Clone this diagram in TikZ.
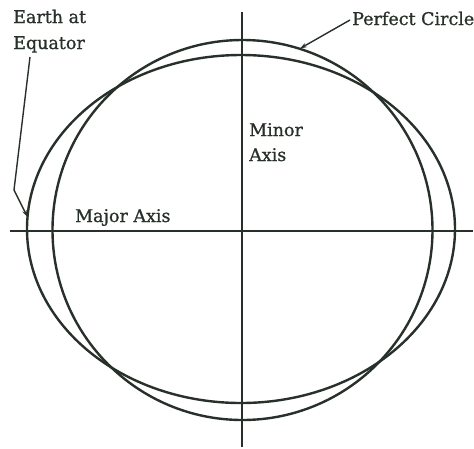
\documentclass[tikz,border=0pt]{standalone}
\usepackage{fontspec}
\setmainfont{DejaVu Serif}
\newfontfamily\lblfont{DejaVu Serif}[FakeBold=0.9]
\usetikzlibrary{arrows.meta}
\definecolor{ink}{RGB}{40,48,42}
\tikzset{
  lbl/.style={anchor=base west,inner sep=0pt,font=\lblfont\fontsize{17.5}{20}\selectfont,text=ink},
  curve/.style={draw=ink,line width=2.4pt},
  axis/.style={draw=ink,line width=2pt},
  leader/.style={draw=ink,line width=1.4pt,-{Stealth[length=7pt,width=4.5pt]}}
}
\begin{document}
\begin{tikzpicture}[x=1pt,y=-1pt]
\useasboundingbox[fill=white] (0,0) rectangle (474,448);
% axes
\coordinate (hl) at (10,231);
\coordinate (hr) at (473,231);
\coordinate (vt) at (242,12);
\coordinate (vb) at (242,447);
\draw[axis] (hl) -- (hr);
\draw[axis] (vt) -- (vb);
% shapes
\draw[curve] (242.5,230) circle [radius=190];
\draw[curve] (241,229) ellipse [x radius=214, y radius=174];
% labels
\node[lbl] (ea) at (13,23) {Earth at};
\node[lbl] (eq) at (13,49) {Equator};
\node[lbl] (pc) at (352,25) {Perfect Circle};
\node[lbl] (mi) at (249,136) {Minor};
\node[lbl] (ax) at (249,161) {Axis};
\node[lbl] (ma) at (75,222) {Major Axis};
% leaders
\coordinate (e1) at (30,57);
\coordinate (e2) at (14,190);
\coordinate (e3) at (27.5,217);
\draw[leader] (e1) -- (e2) -- (e3);
\coordinate (p1) at (350,20);
\coordinate (p2) at (300,48.5);
\draw[leader] (p1) -- (p2);
\end{tikzpicture}
\end{document}
